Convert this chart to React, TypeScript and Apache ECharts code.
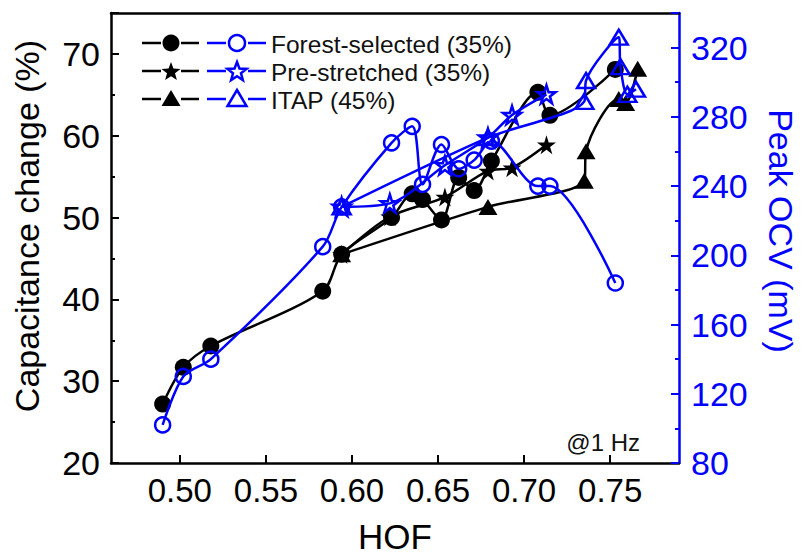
import React, { useEffect, useRef } from "react";
import * as echarts from "echarts";

const FONT = "'Liberation Sans', Arial, Helvetica, sans-serif";
const BLUE = "#0000ff";
const BLACK = "#000000";

// x-axis tick labels (HOF)
const xTicks = [0.5, 0.55, 0.6, 0.65, 0.7, 0.75];

// Forest-selected (35%)
const forestHof = [0.49, 0.502, 0.518, 0.583, 0.594, 0.623, 0.635, 0.641, 0.652, 0.662, 0.671, 0.681, 0.708, 0.715, 0.753];
const forestCap = [27.2, 31.7, 34.3, 41.0, 45.5, 50.0, 52.9, 52.2, 49.7, 54.9, 53.3, 56.9, 65.3, 62.5, 68.1];
const forestOcv = [102, 130, 140, 205, 228, 265, 274.5, 241, 264, 250, 255, 266, 240, 240, 184];

// Pre-stretched (35%)
const preHof = [0.594, 0.622, 0.654, 0.679, 0.693, 0.713];
const preCap = [45.5, 50.1, 52.5, 55.7, 56.1, 58.9];
const preOcv = [228, 230, 252, 268, 281, 293];

// ITAP (45%)
const itapHofCap = [0.594, 0.679, 0.735, 0.736, 0.755, 0.759, 0.766];
const itapCap = [45.5, 51.3, 54.5, 58.1, 64.5, 64.0, 68.2];
const itapHofOcv = [0.594, 0.679, 0.735, 0.736, 0.755, 0.756, 0.76, 0.765];
const itapOcv = [228, 268, 289, 301, 326, 309, 293, 296];

const legendLabels = ["Forest-selected (35%)", "Pre-stretched (35%)", "ITAP (45%)"];

const STAR =
  "path://M50,2 L61.2,36.6 L97.6,36.6 L68.2,58 L79.4,92.6 L50,71.2 L20.6,92.6 L31.8,58 L2.4,36.6 L38.8,36.6 Z";

const pair = (xs: number[], ys: number[]) => xs.map((x, i) => [x, ys[i]]);

function makeSeries(name: string, xs: number[], ys: number[], symbol: string, size: number | number[], filled: boolean, axis: number) {
  const color = filled ? BLACK : BLUE;
  return {
    name,
    type: "line",
    yAxisIndex: axis,
    data: pair(xs, ys),
    smooth: 0.3,
    symbol,
    symbolSize: size,
    lineStyle: { color, width: 2.5 },
    itemStyle: filled
      ? { color: BLACK, borderWidth: 0 }
      : { color: "rgba(0,0,0,0)", borderColor: BLUE, borderWidth: 2.5 },
    emphasis: { disabled: true },
    z: filled ? 2 : 3,
  };
}

function starPoints(cx: number, cy: number, R: number, r: number) {
  const pts: number[][] = [];
  for (let k = 0; k < 10; k++) {
    const a = -Math.PI / 2 + (k * Math.PI) / 5;
    const rad = k % 2 ? r : R;
    pts.push([cx + rad * Math.cos(a), cy + rad * Math.sin(a)]);
  }
  return pts;
}

function legendMarker(kind: number, cx: number, cy: number, filled: boolean) {
  const style = filled
    ? { fill: BLACK, stroke: BLACK, lineWidth: 0 }
    : { fill: "none", stroke: BLUE, lineWidth: 2.5 };
  if (kind === 0) return { type: "circle", shape: { cx, cy, r: filled ? 8.5 : 8 }, style };
  if (kind === 1) return { type: "polygon", shape: { points: starPoints(cx, cy + 1, 10, 4.2) }, style };
  return { type: "polygon", shape: { points: [[cx, cy - 9], [cx + 9.5, cy + 7], [cx - 9.5, cy + 7]] }, style };
}

function buildLegend() {
  const els: any[] = [];
  const rows = [43, 71, 99];
  rows.forEach((y, i) => {
    const segs = [
      [142, 161, BLACK],
      [181, 199, BLACK],
      [207, 226, BLUE],
      [248, 266, BLUE],
    ];
    segs.forEach(([x1, x2, c]) =>
      els.push({ type: "line", shape: { x1, y1: y, x2, y2: y }, style: { stroke: c, lineWidth: 2.5 } })
    );
    els.push(legendMarker(i, 171, y, true));
    els.push(legendMarker(i, 237, y, false));
    els.push({
      type: "text",
      style: { x: 271, y: y + 1, text: legendLabels[i], fill: "#111", fontSize: 24.5, fontFamily: FONT, verticalAlign: "middle", align: "left" },
    });
  });
  els.push({
    type: "text",
    style: { x: 640, y: 442, text: "@1 Hz", fill: "#111", fontSize: 24, fontFamily: FONT, verticalAlign: "middle", align: "right" },
  });
  return els;
}

export default function App() {
  const ref = useRef<HTMLDivElement>(null);
  useEffect(() => {
    if (!ref.current) return;
    const chart = echarts.init(ref.current, null, { renderer: "svg" });
    const option: any = {
      animation: false,
      backgroundColor: "#ffffff",
      grid: { left: 111, right: 123, top: 13, bottom: 89 },
      xAxis: [
        {
          type: "value",
          min: 0.46,
          max: 0.79,
          position: "bottom",
          axisLine: { show: true, onZero: false, lineStyle: { color: BLACK, width: 2.5 } },
          axisTick: { show: true, inside: true, length: 8, lineStyle: { color: BLACK, width: 2 }, customValues: xTicks },
          axisLabel: {
            show: true,
            customValues: xTicks,
            formatter: (v: number) => v.toFixed(2),
            fontSize: 33,
            fontFamily: FONT,
            color: BLACK,
            margin: 11,
          },
          splitLine: { show: false },
          name: "HOF",
          nameLocation: "middle",
          nameGap: 56,
          nameTextStyle: { fontSize: 35, fontFamily: FONT, color: BLACK },
        },
        {
          type: "value",
          min: 0.46,
          max: 0.79,
          position: "top",
          axisLine: { show: true, onZero: false, lineStyle: { color: BLACK, width: 2.5 } },
          axisTick: { show: false },
          axisLabel: { show: false },
          splitLine: { show: false },
        },
      ],
      yAxis: [
        {
          type: "value",
          min: 20,
          max: 75,
          interval: 10,
          position: "left",
          axisLine: { show: true, onZero: false, lineStyle: { color: BLACK, width: 2.5 } },
          axisTick: { show: true, inside: true, length: 8, lineStyle: { color: BLACK, width: 2 } },
          minorTick: { show: true, splitNumber: 2, length: 4, lineStyle: { color: BLACK, width: 2 } },
          axisLabel: { fontSize: 34, fontFamily: FONT, color: BLACK, margin: 11, showMaxLabel: false },
          splitLine: { show: false },
          name: "Capacitance change (%)",
          nameLocation: "middle",
          nameGap: 67,
          nameTextStyle: { fontSize: 34, fontFamily: FONT, color: BLACK, padding: [0, 0, 0, 24] },
        },
        {
          type: "value",
          min: 80,
          max: 340,
          interval: 40,
          position: "right",
          axisLine: { show: true, onZero: false, lineStyle: { color: BLUE, width: 2.5 } },
          axisTick: { show: true, inside: true, length: 8, lineStyle: { color: BLUE, width: 2 } },
          minorTick: { show: true, splitNumber: 2, length: 4, lineStyle: { color: BLUE, width: 2 } },
          axisLabel: { fontSize: 34, fontFamily: FONT, color: BLUE, margin: 12, showMaxLabel: false },
          splitLine: { show: false },
          name: "Peak OCV (mV)",
          nameLocation: "middle",
          nameRotate: -90,
          nameGap: 85,
          nameTextStyle: { fontSize: 34, fontFamily: FONT, color: BLUE, padding: [0, 14, 0, 0] },
        },
      ],
      series: [
        makeSeries("Forest-selected cap", forestHof, forestCap, "circle", 17, true, 0),
        makeSeries("Pre-stretched cap", preHof, preCap, STAR, 19, true, 0),
        makeSeries("ITAP cap", itapHofCap, itapCap, "triangle", [19, 16], true, 0),
        makeSeries("Forest-selected OCV", forestHof, forestOcv, "circle", 15, false, 1),
        makeSeries("Pre-stretched OCV", preHof, preOcv, STAR, 18, false, 1),
        makeSeries("ITAP OCV", itapHofOcv, itapOcv, "triangle", [18, 15], false, 1),
      ],
      graphic: buildLegend(),
    };
    chart.setOption(option);
    return () => chart.dispose();
  }, []);
  return <div ref={ref} style={{ position: "absolute", left: 0, top: 0, width: 806, height: 559 }} />;
}
